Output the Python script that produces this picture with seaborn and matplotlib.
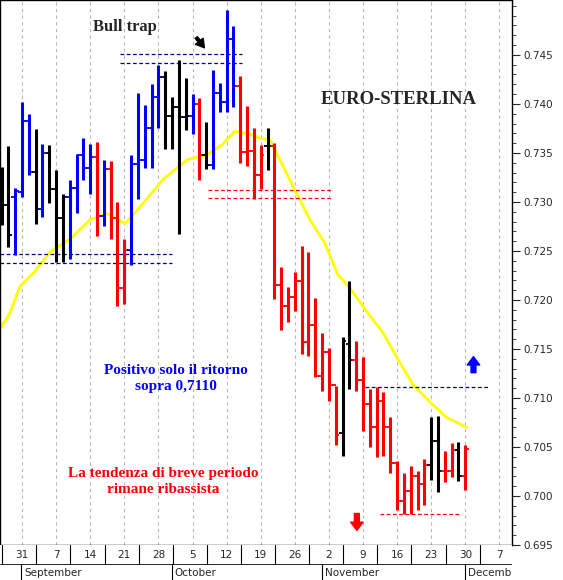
import matplotlib
matplotlib.use("Agg")
import matplotlib.pyplot as plt
import seaborn as sns
import numpy as np
import pandas as pd

# OHLC (prices) per trading day, 26 Aug - 30 Nov
highs = [0.7336,0.7357,0.7314,0.7402,0.7390,0.7374,0.7359,0.7358,0.7333,0.7308,0.7322,0.7349,0.7365,0.7359,0.7361,0.7343,0.7342,0.7300,0.7262,0.7348,0.7411,0.7399,0.7420,0.7440,0.7434,0.7407,0.7445,0.7426,0.7410,0.7406,0.7382,0.7435,0.7421,0.7496,0.7479,0.7428,0.7398,0.7375,0.7358,0.7375,0.7360,0.7234,0.7213,0.7229,0.7255,0.7249,0.7202,0.7166,0.7151,0.7112,0.7162,0.7219,0.7158,0.7142,0.7109,0.7111,0.7106,0.7081,0.7036,0.7023,0.7031,0.7026,0.7038,0.7081,0.7082,0.7046,0.7054,0.7055,0.7052]
lows = [0.7276,0.7254,0.7246,0.7305,0.7327,0.7277,0.7285,0.7299,0.7239,0.7239,0.7242,0.7289,0.7322,0.7308,0.7265,0.7275,0.7262,0.7194,0.7196,0.7236,0.7303,0.7335,0.7335,0.7375,0.7354,0.7354,0.7267,0.7373,0.7369,0.7322,0.7334,0.7334,0.7392,0.7392,0.7397,0.7340,0.7337,0.7303,0.7313,0.7333,0.7201,0.7169,0.7178,0.7189,0.7145,0.7143,0.7121,0.7107,0.7097,0.7052,0.7041,0.7109,0.7107,0.7066,0.7050,0.7040,0.7041,0.7023,0.6986,0.6982,0.6982,0.6986,0.6991,0.7016,0.7004,0.7014,0.7019,0.7015,0.7006]
opens = [0.7327,0.7297,0.7305,0.7310,0.7383,0.7331,0.7293,0.7350,0.7313,0.7284,0.7305,0.7314,0.7348,0.7335,0.7346,0.7286,0.7334,0.7284,0.7212,0.7251,0.7339,0.7343,0.7375,0.7407,0.7427,0.7388,0.7397,0.7387,0.7388,0.7400,0.7348,0.7338,0.7411,0.7402,0.7466,0.7418,0.7351,0.7352,0.7327,0.7357,0.7357,0.7215,0.7194,0.7203,0.7219,0.7157,0.7174,0.7122,0.7147,0.7113,0.7064,0.7155,0.7139,0.7118,0.7094,0.7070,0.7097,0.7070,0.7034,0.6995,0.7005,0.7020,0.7012,0.7032,0.7056,0.7025,0.7025,0.7047,0.7020]
closes = [0.7297,0.7266,0.7311,0.7383,0.7331,0.7293,0.7350,0.7313,0.7284,0.7305,0.7314,0.7348,0.7335,0.7346,0.7286,0.7334,0.7284,0.7212,0.7251,0.7339,0.7343,0.7375,0.7407,0.7427,0.7388,0.7397,0.7387,0.7388,0.7400,0.7348,0.7338,0.7411,0.7402,0.7466,0.7418,0.7351,0.7352,0.7327,0.7348,0.7357,0.7215,0.7194,0.7203,0.7219,0.7157,0.7174,0.7122,0.7147,0.7113,0.7062,0.7158,0.7139,0.7118,0.7094,0.7070,0.7097,0.7070,0.7034,0.6995,0.7005,0.7020,0.7012,0.7032,0.7056,0.7025,0.7025,0.7047,0.7020,0.7048]
colors = (["black","black","blue","blue","blue","black","blue","black","black","black","blue","blue","blue","blue","red","blue","red","red","red","blue","blue","blue","blue","blue","black","black","black","black","blue","red","black","blue","blue","blue","blue","red","red","red","red","black"]
          + ["red"]*10 + ["black","black"] + ["red"]*11 + ["black","black","red","red","black","red","black"])

# Moving average samples (day index, value)
ma_idx = [-0.2,1.2,2.7,4.6,7.1,10.0,13.0,15.5,18.1,20.3,23.7,27.2,30.1,32.3,34.2,36.4,37.9,39.4,42.3,45.2,47.4,49.3,51.1,54.0,55.9,58.0,60.3,62.8,65.3,68.2]
ma_val = [0.7171,0.7186,0.7214,0.7227,0.7249,0.7262,0.7282,0.7288,0.7278,0.7295,0.7323,0.7343,0.7348,0.7358,0.7372,0.7369,0.7365,0.7363,0.7322,0.7282,0.7258,0.7226,0.7212,0.7184,0.7167,0.7141,0.7114,0.7096,0.7080,0.7070]

day_labels = ["31","7","14","21","28","5","12","19","26","2","9","16","23","30","7"]
months = ["September","October","November","December"]
month_pos = [3.3,25.4,47.4,68.4]

sns.set_style("white")
serif = "Liberation Serif"
fig = plt.figure(figsize=(5.63,5.80), dpi=100)
ax = fig.add_axes([0,35/580,512/563,545/580])
xlim = (-0.23,74.85)
ax.set_xlim(*xlim); ax.set_ylim(0.6958,0.7506)

mondays = [3+5*k for k in range(len(day_labels))]
for m in mondays:
    ax.axvline(m,color="#b8b8b8",ls=(0,(3,3)),lw=0.8,zorder=0)

n = len(highs)
x = np.arange(n)
ax.vlines(x,lows,highs,colors=colors,lw=2.2,zorder=3)
for i in range(n):
    ax.hlines(opens[i],x[i]-0.55,x[i],colors=colors[i],lw=1.3,zorder=3)
    ax.hlines(closes[i],x[i],x[i]+0.55,colors=colors[i],lw=1.3,zorder=3)

ma = pd.DataFrame({"i":ma_idx,"v":ma_val})
sns.lineplot(data=ma,x="i",y="v",color="yellow",lw=2,ax=ax,zorder=2)

dash=(0,(3,2))
ax.hlines([0.7451,0.7442],17.4,35.3,colors="navy",ls=dash,lw=0.9)
ax.hlines([0.7247,0.7238],-0.23,25.0,colors="navy",ls=dash,lw=0.9)
ax.hlines([0.7312,0.7304],30.3,48.3,colors="red",ls=dash,lw=0.9)
ax.hlines([0.7111],53.3,71.6,colors="navy",ls=dash,lw=0.9)
ax.hlines([0.6982],55.5,67.2,colors="red",ls=dash,lw=0.9)

ax.text(18.1,0.7478,"Bull trap",fontsize=12,fontweight="bold",family=serif,ha="center",va="center")
ax.annotate("",xy=(30.0,0.7455),xytext=(28.3,0.7470),arrowprops=dict(arrowstyle="simple,head_width=0.7,head_length=0.6",color="black"))
ax.text(58.2,0.7404,"EURO-STERLINA",fontsize=13.5,fontweight="bold",family=serif,ha="center",va="center")
ax.text(25.6,0.7120,"Positivo solo il ritorno\nsopra 0,7110",fontsize=11,fontweight="bold",family=serif,color="blue",ha="center",va="center",linespacing=1.3)
ax.text(23.7,0.7015,"La tendenza di breve periodo\nrimane ribassista",fontsize=11,fontweight="bold",family=serif,color="red",ha="center",va="center",linespacing=1.3)
ax.annotate("",xy=(69.2,0.7145),xytext=(69.2,0.7123),arrowprops=dict(arrowstyle="simple,head_width=0.9,head_length=0.6,tail_width=0.35",color="blue"))
ax.annotate("",xy=(52.1,0.6962),xytext=(52.1,0.6985),arrowprops=dict(arrowstyle="simple,head_width=0.9,head_length=0.6,tail_width=0.35",color="red"))

ax.set_xlabel(""); ax.set_ylabel("")
ax.set_xticks([])
ax.yaxis.tick_right()
ax.set_yticks(np.arange(0.695,0.7451,0.005))
ax.set_yticklabels([f"{v:.3f}" for v in np.arange(0.695,0.7451,0.005)],fontsize=7.5)
ax.set_yticks(np.arange(0.696,0.750,0.001),minor=True)
ax.tick_params(axis="y",which="major",length=6,direction="out",right=True,pad=2)
ax.tick_params(axis="y",which="minor",length=3,direction="out",right=True)
for s in ax.spines.values():
    s.set_color("black"); s.set_linewidth(1)

bx = fig.add_axes([0,0,512/563,35/580])
bx.set_xlim(*xlim); bx.set_ylim(0,1)
bx.set_yticks([])
bx.set_xticks(mondays)
bx.set_xticklabels([])
bx.tick_params(axis="x",direction="in",length=4,top=False,bottom=False)
for i,(m,l) in enumerate(zip(mondays,day_labels)):
    bx.text(m,0.72,l,fontsize=7.5,ha="center",va="center",clip_on=True)
    bx.plot([m-2.9,m-2.9],[0.45,1.0],color="black",lw=0.8)
for mp,mn in zip(month_pos,months):
    bx.text(mp,0.2,mn,fontsize=7.5,ha="left",va="center",clip_on=True)
    bx.plot([mp-0.4,mp-0.4],[0,0.45],color="black",lw=0.8)
bx.axhline(0.45,color="black",lw=0.6)
for s in bx.spines.values():
    s.set_visible(False)
fig.savefig("out.png",dpi=100,facecolor="white")
